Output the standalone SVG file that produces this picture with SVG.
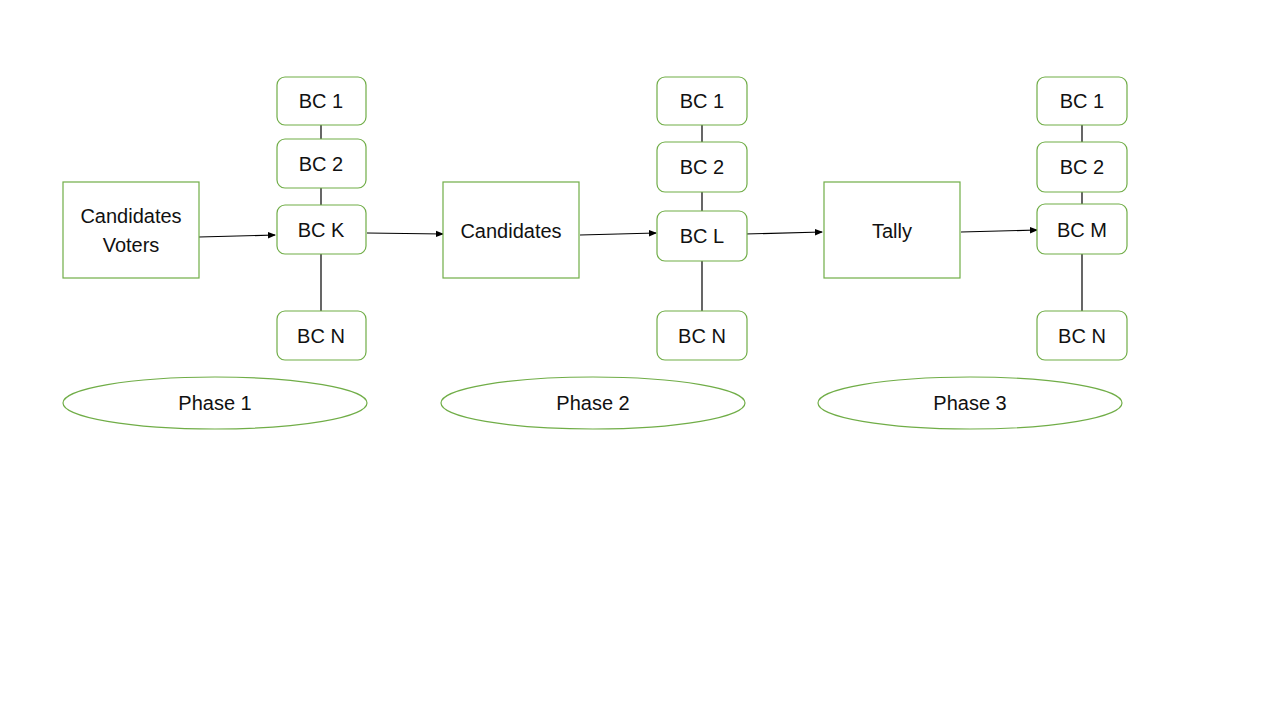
<svg xmlns="http://www.w3.org/2000/svg" width="1280" height="720" viewBox="0 0 1280 720">
<style>
.box{fill:#fff;stroke:#70AD47;stroke-width:1.2}
.t{font-family:"Liberation Sans",Arial,sans-serif;font-size:20px;fill:#111;text-anchor:middle;dominant-baseline:central}
.ln{stroke:#000;stroke-width:1.2;fill:none}
</style>
<defs>
<marker id="ah" markerWidth="8" markerHeight="8" refX="7" refY="4" orient="auto" markerUnits="userSpaceOnUse">
<path d="M0,0.8 L8,4 L0,7.2 Z" fill="#000"/>
</marker>
</defs>
<rect width="1280" height="720" fill="#fff"/>
<g id="connectors">
<line class="ln" x1="321" y1="125" x2="321" y2="139"/>
<line class="ln" x1="321" y1="188" x2="321" y2="205"/>
<line class="ln" x1="321" y1="254" x2="321" y2="311"/>
<line class="ln" x1="702" y1="125" x2="702" y2="142"/>
<line class="ln" x1="702" y1="192" x2="702" y2="211"/>
<line class="ln" x1="702" y1="261" x2="702" y2="311"/>
<line class="ln" x1="1082" y1="125" x2="1082" y2="142"/>
<line class="ln" x1="1082" y1="192" x2="1082" y2="204"/>
<line class="ln" x1="1082" y1="254" x2="1082" y2="311"/>
<line class="ln" x1="199" y1="237" x2="275" y2="235" marker-end="url(#ah)"/>
<line class="ln" x1="367" y1="233" x2="443" y2="234" marker-end="url(#ah)"/>
<line class="ln" x1="580" y1="235" x2="656" y2="233" marker-end="url(#ah)"/>
<line class="ln" x1="745" y1="234" x2="822" y2="232" marker-end="url(#ah)"/>
<line class="ln" x1="961" y1="232" x2="1037" y2="230" marker-end="url(#ah)"/>
</g>
<g id="input1"><rect class="box" x="63" y="182" width="136" height="96"/><text class="t" x="131" y="216">Candidates</text><text class="t" x="131" y="245">Voters</text></g>
<g id="c1bc1"><rect class="box" x="277" y="77" width="89" height="48" rx="8"/><text class="t" x="321" y="101">BC 1</text></g>
<g id="c1bc2"><rect class="box" x="277" y="139" width="89" height="49" rx="8"/><text class="t" x="321" y="164">BC 2</text></g>
<g id="c1bck"><rect class="box" x="277" y="205" width="89" height="49" rx="8"/><text class="t" x="321" y="230">BC K</text></g>
<g id="c1bcn"><rect class="box" x="277" y="311" width="89" height="49" rx="8"/><text class="t" x="321" y="336">BC N</text></g>
<g id="input2"><rect class="box" x="443" y="182" width="136" height="96"/><text class="t" x="511" y="231">Candidates</text></g>
<g id="c2bc1"><rect class="box" x="657" y="77" width="90" height="48" rx="8"/><text class="t" x="702" y="101">BC 1</text></g>
<g id="c2bc2"><rect class="box" x="657" y="142" width="90" height="50" rx="8"/><text class="t" x="702" y="167">BC 2</text></g>
<g id="c2bcl"><rect class="box" x="657" y="211" width="90" height="50" rx="8"/><text class="t" x="702" y="236">BC L</text></g>
<g id="c2bcn"><rect class="box" x="657" y="311" width="90" height="49" rx="8"/><text class="t" x="702" y="336">BC N</text></g>
<g id="input3"><rect class="box" x="824" y="182" width="136" height="96"/><text class="t" x="892" y="231">Tally</text></g>
<g id="c3bc1"><rect class="box" x="1037" y="77" width="90" height="48" rx="8"/><text class="t" x="1082" y="101">BC 1</text></g>
<g id="c3bc2"><rect class="box" x="1037" y="142" width="90" height="50" rx="8"/><text class="t" x="1082" y="167">BC 2</text></g>
<g id="c3bcm"><rect class="box" x="1037" y="204" width="90" height="50" rx="8"/><text class="t" x="1082" y="230">BC M</text></g>
<g id="c3bcn"><rect class="box" x="1037" y="311" width="90" height="49" rx="8"/><text class="t" x="1082" y="336">BC N</text></g>
<g id="phase1"><ellipse class="box" cx="215" cy="403" rx="152" ry="26"/><text class="t" x="215" y="403">Phase 1</text></g>
<g id="phase2"><ellipse class="box" cx="593" cy="403" rx="152" ry="26"/><text class="t" x="593" y="403">Phase 2</text></g>
<g id="phase3"><ellipse class="box" cx="970" cy="403" rx="152" ry="26"/><text class="t" x="970" y="403">Phase 3</text></g>
</svg>
